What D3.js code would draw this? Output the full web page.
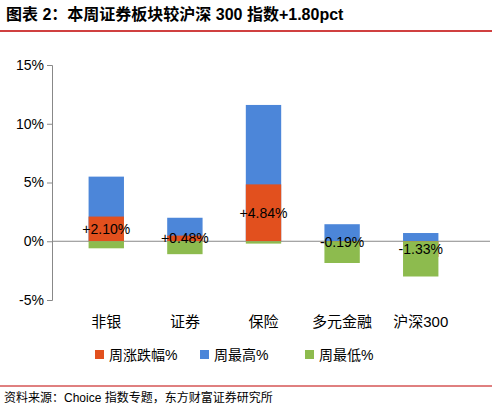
<!DOCTYPE html><html><head><meta charset="utf-8"><script src="https://cdn.jsdelivr.net/npm/d3@7"></script>
<style>body{margin:0;background:#fff}text{font-family:Arial,"Liberation Sans","Noto Sans CJK SC",sans-serif}</style></head><body><svg width="492" height="413"></svg><script>
const categories=["非银","证券","保险","多元金融","沪深300"];
const change=[2.10,0.48,4.84,-0.19,-1.33];
const high=[5.5,2.0,11.6,1.45,0.7];
const low=[-0.6,-1.1,-0.2,-1.85,-3.0];
const yTicks=[-5,0,5,10,15];
const seriesNames=["周涨跌幅%","周最高%","周最低%"];
const colors=["#E2501E","#4C86D9","#8DBB4E"];
const svg=d3.select("svg");
svg.append("text").attr("x",6).attr("y",20).attr("font-size",16).attr("font-weight","bold").text("图表 2：本周证券板块较沪深 300 指数+1.80pct");
svg.append("line").attr("x1",0).attr("x2",492).attr("y1",31).attr("y2",31).attr("stroke","#c00000").attr("stroke-width",1.5);
const y=d3.scaleLinear().domain([-5,15]).range([300,65]);
const x=d3.scaleBand().domain(categories).range([65,462]).paddingInner(0.55).paddingOuter(0.3);
svg.append("g").attr("transform","translate(52,0)").call(d3.axisLeft(y).tickValues(yTicks).tickFormat(d=>d+"%").tickSize(5)).call(g=>{g.selectAll("text").attr("font-size",14).attr("fill","#000");g.selectAll("line,path").attr("stroke","#888");});
svg.append("line").attr("x1",52).attr("x2",490).attr("y1",y(0)).attr("y2",y(0)).attr("stroke","#888");
const bw=x.bandwidth();
[[high,1],[change,0],[low,2]].forEach(([arr,ci])=>{
 svg.selectAll(null).data(arr).enter().append("rect").attr("x",(d,i)=>x(categories[i])).attr("width",bw)
 .attr("y",d=>y(Math.max(0,d))).attr("height",d=>Math.abs(y(d)-y(0))).attr("fill",colors[ci]);
});
svg.selectAll(null).data(change).enter().append("text").attr("x",(d,i)=>x(categories[i])+bw/2).attr("y",d=>y(d/2)+5)
 .attr("text-anchor","middle").attr("font-size",14).text(d=>(d>0?"+":"")+d.toFixed(2)+"%");
svg.selectAll(null).data(categories).enter().append("text").attr("x",d=>x(d)+bw/2).attr("y",327).attr("text-anchor","middle").attr("font-size",15).text(d=>d);
const lx=[95,200,305];
seriesNames.forEach((n,i)=>{
 svg.append("rect").attr("x",lx[i]).attr("y",350).attr("width",9).attr("height",9).attr("fill",colors[i]);
 svg.append("text").attr("x",lx[i]+14).attr("y",360).attr("font-size",14).text(n);
});
svg.append("line").attr("x1",0).attr("x2",492).attr("y1",386).attr("y2",386).attr("stroke","#c00000");
svg.append("text").attr("x",4).attr("y",402).attr("font-size",12).text("资料来源：Choice 指数专题，东方财富证券研究所");
</script></body></html>
